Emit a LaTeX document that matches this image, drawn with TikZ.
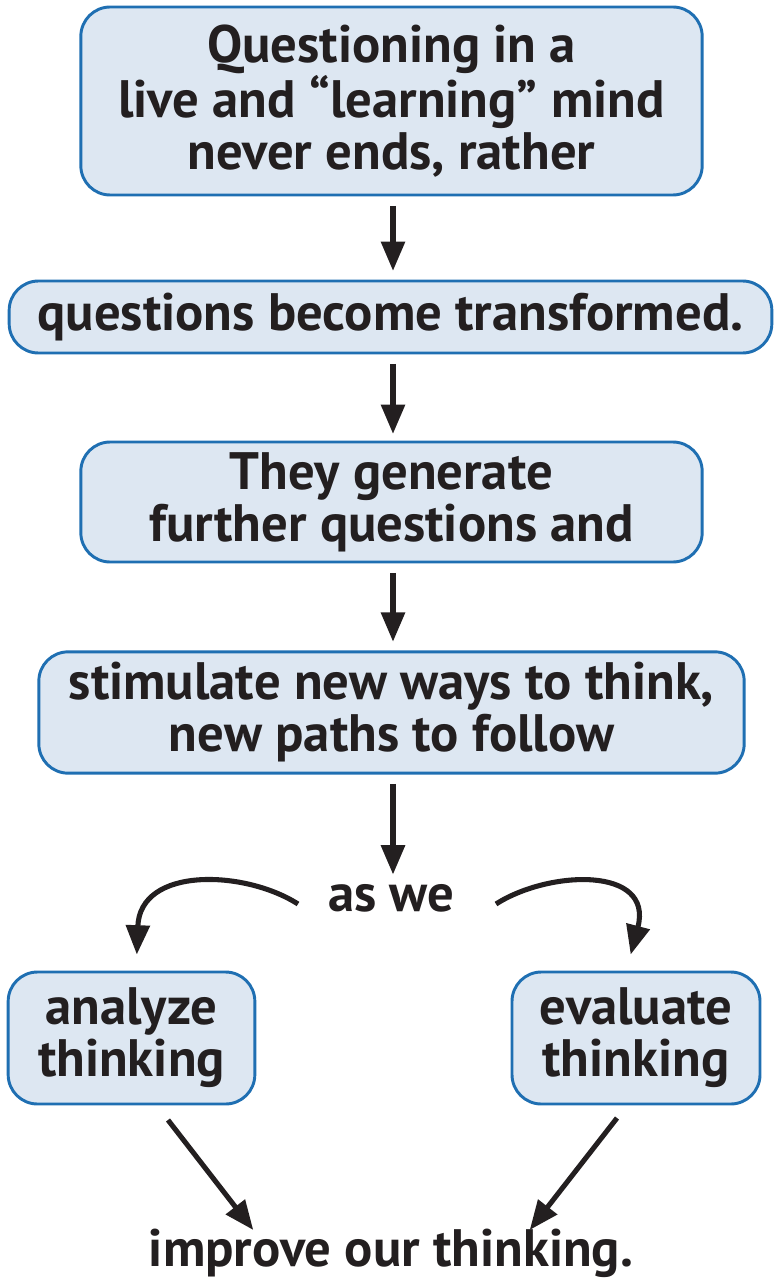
\documentclass[tikz,border=0pt]{standalone}
\usepackage{fontspec}
\setmainfont{PT Sans}
\usetikzlibrary{arrows.meta,calc}
\definecolor{boxfill}{HTML}{DDE7F2}
\definecolor{boxline}{HTML}{1F6FB2}
\definecolor{ink}{HTML}{231F20}
\tikzset{
  box/.style={draw=boxline, line width=2.2pt, fill=boxfill, rounded corners=22pt,
    align=center, inner sep=0pt, text=ink, font=\bfseries\fontsize{39.5}{39}\selectfont},
  plain/.style={align=center, text=ink, inner sep=2pt, font=\bfseries\fontsize{39.5}{39}\selectfont},
  arr/.style={draw=ink, line width=3.8pt, -{Triangle[length=22pt,width=17.5pt]}},
}
\begin{document}
\begin{tikzpicture}[x=0.75pt,y=-0.75pt]
\useasboundingbox (0,0) rectangle (774,1280);
\node[box, minimum width=466pt, minimum height=141pt] (b1) at (391.5,101)
  {Questioning in a\\live and “learning” mind\\never ends, rather};
\node[box, minimum width=572pt, minimum height=54pt] (b2) at (390.5,317)
  {questions become transformed.};
\node[box, minimum width=466pt, minimum height=90pt] (b3) at (391.5,502)
  {They generate\\further questions and};
\node[box, minimum width=529pt, minimum height=91pt] (b4) at (391.5,712.5)
  {stimulate new ways to think,\\new paths to follow};
\node[plain] (asw) at (391,898) {as we};
\node[box, minimum width=185pt, minimum height=99pt] (b5) at (131.5,1038)
  {analyze\\thinking};
\node[box, minimum width=186pt, minimum height=99pt] (b6) at (636,1038)
  {evaluate\\thinking};
\node[plain] (imp) at (391,1253) {improve our thinking.};

\draw[arr, shorten <=7pt, shorten >=6.5pt] (b1.south -| 393,0) -- (b2.north -| 393,0);
\draw[arr, shorten <=7pt, shorten >=5pt] (b2.south -| 393,0) -- (b3.north -| 393,0);
\draw[arr, shorten <=7pt, shorten >=6.5pt] (b3.south -| 393,0) -- (b4.north -| 393,0);
\draw[arr, shorten <=7pt, shorten >=5pt] (b4.south -| 393,0) -- (asw.north -| 393,0);

\coordinate (ls) at (298,904);
\coordinate (rs) at (496,904);
\draw[arr] (ls) .. controls (245,870) and (140,866) .. ([xshift=4pt,yshift=12pt]b5.north);
\draw[arr] (rs) .. controls (549,870) and (654,866) .. ([xshift=-4pt,yshift=12pt]b6.north);

\coordinate (la) at (168,1120);
\coordinate (ra) at (617,1118);
\draw[arr, shorten >=-4pt] (la) -- (imp.north -| 250,0) ;
\draw[arr, shorten >=-4pt] (ra) -- (imp.north -| 533,0);
\end{tikzpicture}
\end{document}
